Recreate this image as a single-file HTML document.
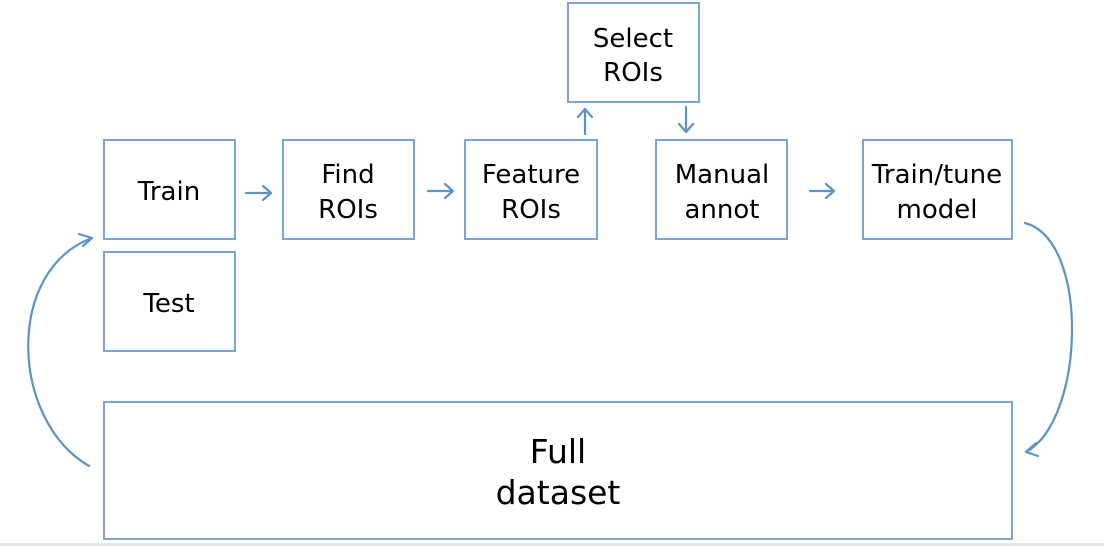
<!DOCTYPE html>
<html><head><style>
html,body{margin:0;padding:0;background:#fff;}
svg{display:block}
text{font-family:"DejaVu Sans","Liberation Sans",sans-serif;fill:#000;text-anchor:middle}
</style></head><body>
<svg width="1104" height="546" viewBox="0 0 1104 546" xmlns="http://www.w3.org/2000/svg">
<rect x="0" y="543" width="1104" height="3" fill="#e6e6e6"/>
<g fill="none" stroke="#7ba6cf" stroke-width="2">
<rect x="104" y="140" width="131" height="99"/>
<rect x="104" y="252" width="131" height="99"/>
<rect x="283" y="140" width="131" height="99"/>
<rect x="465" y="140" width="132" height="99"/>
<rect x="568" y="3" width="131" height="99"/>
<rect x="656" y="140" width="131" height="99"/>
<rect x="863" y="140" width="149" height="99"/>
<rect x="104" y="402" width="908" height="137"/>
</g>
<g fill="none" stroke="#5b93c7" stroke-width="2.2" stroke-linecap="round" stroke-linejoin="round">
<path d="M246 193 H271 M263 186 L271 193 L263 200"/>
<path d="M428 191 H453 M445 184 L453 191 L445 198"/>
<path d="M810 191 H834 M826 184 L834 191 L826 198"/>
<path d="M585 134 V109 M578 117 L585 109 L592 117"/>
<path d="M686 107 V132 M679 124 L686 132 L693 124"/>
<path d="M89 466 C10 420 5 270 92 238 M79 234 L92 238 L83 246"/>
<path d="M1025 223 C1090 240 1085 420 1026 452 M1026 452 L1036 443 M1026 452 L1038 456"/>
</g>
<g font-size="26">
<text x="169" y="200">Train</text>
<text x="169" y="312">Test</text>
<text x="348" y="183">Find</text>
<text x="348" y="218">ROIs</text>
<text x="531" y="183">Feature</text>
<text x="531" y="218">ROIs</text>
<text x="633" y="47">Select</text>
<text x="633" y="81">ROIs</text>
<text x="722" y="183">Manual</text>
<text x="722" y="218">annot</text>
<text x="937" y="183">Train/tune</text>
<text x="937" y="218">model</text>
</g>
<g font-size="33">
<text x="558" y="463">Full</text>
<text x="558" y="504">dataset</text>
</g>
</svg>
</body></html>
